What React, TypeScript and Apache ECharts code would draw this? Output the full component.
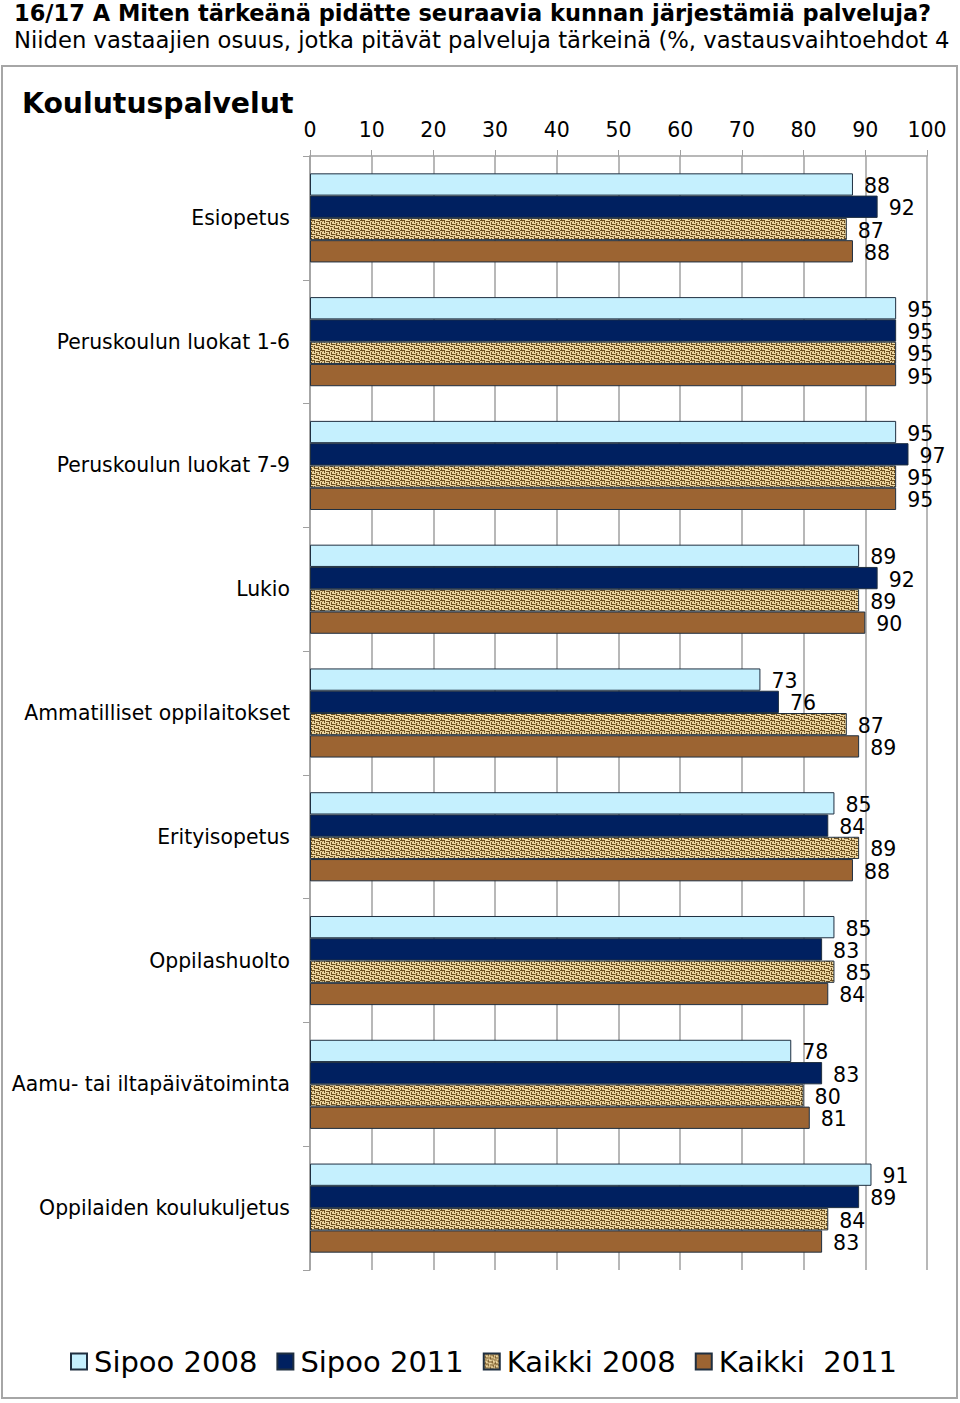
import React, { useEffect, useRef } from "react";
import * as echarts from "echarts";

const categories = [
  "Esiopetus",
  "Peruskoulun luokat 1-6",
  "Peruskoulun luokat 7-9",
  "Lukio",
  "Ammatilliset oppilaitokset",
  "Erityisopetus",
  "Oppilashuolto",
  "Aamu- tai iltapäivätoiminta",
  "Oppilaiden koulukuljetus",
];

const seriesNames = ["Sipoo 2008", "Sipoo 2011", "Kaikki 2008", "Kaikki  2011"];

const sipoo2008 = [88, 95, 95, 89, 73, 85, 85, 78, 91];
const sipoo2011 = [92, 95, 97, 92, 76, 84, 83, 83, 89];
const kaikki2008 = [87, 95, 95, 89, 87, 89, 85, 80, 84];
const kaikki2011 = [88, 95, 95, 90, 89, 88, 84, 81, 83];

const titleLine1 = "16/17 A Miten tärkeänä pidätte seuraavia kunnan järjestämiä palveluja?";
const titleLine2 = "Niiden vastaajien osuus, jotka pitävät palveluja tärkeinä (%, vastausvaihtoehdot 4";
const panelTitle = "Koulutuspalvelut";

function makePattern(): HTMLCanvasElement {
  const c = document.createElement("canvas");
  c.width = 10;
  c.height = 10;
  const ctx = c.getContext("2d")!;
  ctx.fillStyle = "#ecd6a2";
  ctx.fillRect(0, 0, 10, 10);
  ctx.fillStyle = "#6e5020";
  const marks = [
    [0, 0, 4, 1], [4, 0, 1, 3], [6, 1, 4, 1], [9, 1, 1, 3],
    [1, 2, 1, 3], [2, 4, 3, 1], [6, 3, 1, 3], [7, 5, 3, 1],
    [0, 6, 3, 1], [4, 6, 1, 3], [5, 8, 3, 1], [8, 7, 1, 3],
    [1, 8, 1, 2],
  ];
  marks.forEach(([x, y, w, h]) => ctx.fillRect(x, y, w, h));
  ctx.fillStyle = "#b8975a";
  const soft = [[2, 1, 1, 1], [7, 3, 1, 1], [3, 7, 1, 1], [9, 9, 1, 1], [5, 4, 1, 1]];
  soft.forEach(([x, y, w, h]) => ctx.fillRect(x, y, w, h));
  return c;
}

export default function App() {
  const ref = useRef<HTMLDivElement>(null);
  useEffect(() => {
    document.body.style.margin = "0";
    if (!ref.current) return;
    const chart = echarts.init(ref.current, null, { renderer: "svg" });
    const pattern = { image: makePattern(), repeat: "repeat" } as any;
    const colors = ["#c5f0fe", "#002060", pattern, "#9c6432"];
    const datas = [sipoo2008, sipoo2011, kaikki2008, kaikki2011];
    const font = "Verdana, 'DejaVu Sans', sans-serif";

    chart.setOption({
      animation: false,
      backgroundColor: "#ffffff",
      textStyle: { fontFamily: font },
      graphic: [
        {
          type: "text",
          left: 14,
          top: 1,
          style: { text: titleLine1, fontFamily: font, fontWeight: "bold", fontSize: 22.5, fill: "#000" },
        },
        {
          type: "text",
          left: 14,
          top: 28,
          style: { text: titleLine2, fontFamily: font, fontSize: 22.7, fill: "#000" },
        },
        {
          type: "rect",
          shape: { x: 2, y: 66, width: 955, height: 1332 },
          style: { fill: "none", stroke: "#a6a6a6", lineWidth: 2 },
          z: -1,
        },
        {
          type: "text",
          left: 22,
          top: 89,
          style: { text: panelTitle, fontFamily: font, fontWeight: "bold", fontSize: 28.3, fill: "#000" },
        },
      ],
      legend: {
        data: seriesNames,
        bottom: 22,
        left: 65,
        itemWidth: 16,
        itemHeight: 16,
        itemGap: 19,
        icon: "rect",
        textStyle: { fontSize: 29, color: "#000", fontFamily: font, padding: [0, 0, 0, 2] },
      },
      grid: { left: 310, right: 33, top: 156, bottom: 133, containLabel: false },
      xAxis: {
        type: "value",
        position: "top",
        min: 0,
        max: 100,
        interval: 10,
        axisLine: { show: true, lineStyle: { color: "#a0a0a0", width: 1.5 } },
        axisTick: { show: true, length: 6, lineStyle: { color: "#a0a0a0" } },
        splitLine: { show: true, lineStyle: { color: "#a0a0a0", width: 1.5 } },
        axisLabel: { fontSize: 20.5, color: "#000", margin: 16, fontFamily: font },
      },
      yAxis: {
        type: "category",
        data: categories,
        inverse: true,
        axisLine: { show: true, lineStyle: { color: "#a0a0a0", width: 1.5 } },
        axisTick: { show: true, length: 7, lineStyle: { color: "#a0a0a0" } },
        axisLabel: { fontSize: 20.4, color: "#000", margin: 20, fontFamily: font },
      },
      series: datas.map((d, i) => ({
        name: seriesNames[i],
        type: "bar",
        data: d,
        barGap: "0%",
        barCategoryGap: "28%",
        itemStyle: { color: colors[i], borderColor: "#1f2f40", borderWidth: 1 },
        label: {
          show: true,
          position: "right",
          distance: 11,
          fontSize: 20.5,
          color: "#000",
          fontFamily: font,
          offset: [0, 1.5],
        },
      })),
    });
    return () => chart.dispose();
  }, []);
  return <div ref={ref} style={{ width: 960, height: 1403 }} />;
}
